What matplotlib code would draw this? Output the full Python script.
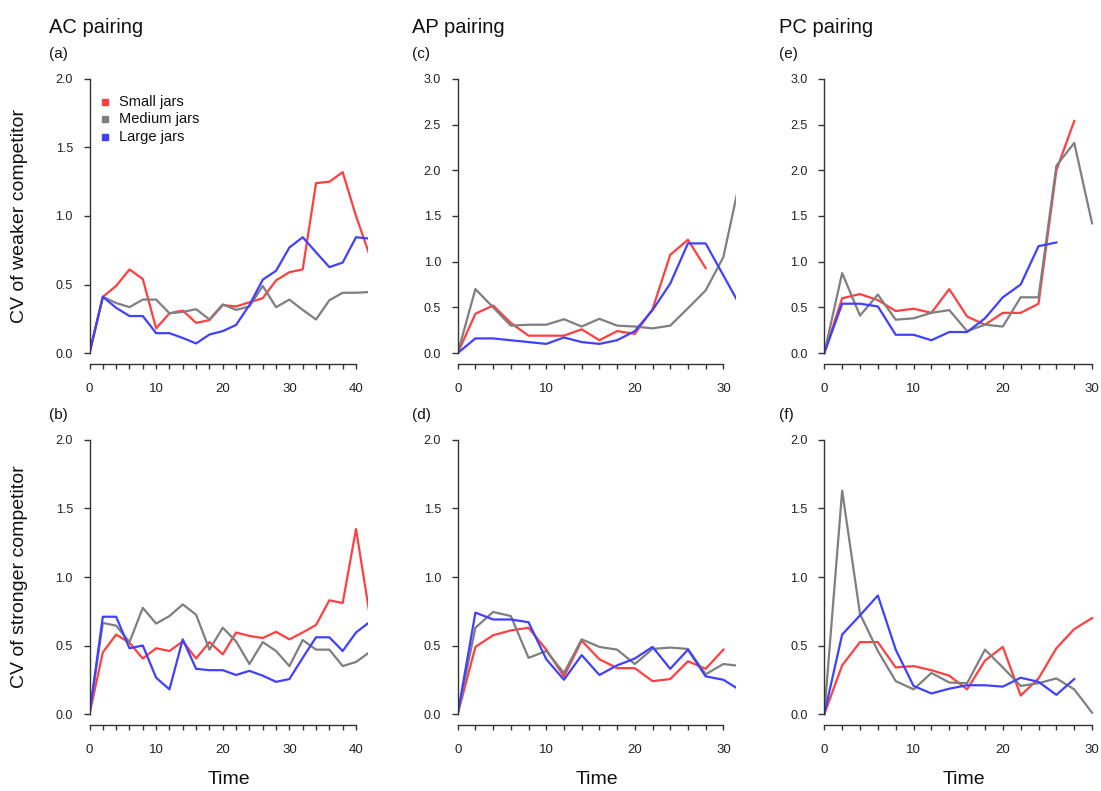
import numpy as np
import matplotlib
matplotlib.use("Agg")
import matplotlib.pyplot as plt

plt.rcParams['font.family'] = ['Liberation Sans', 'DejaVu Sans']

# sampling times (every 2 time units)
t_ac = np.arange(0, 44, 2)
t_ap = np.arange(0, 34, 2)

# AC pairing, weaker competitor
ac_weak_small = [0, 0.41, 0.49, 0.61, 0.54, 0.18, 0.29, 0.31, 0.22, 0.24, 0.35, 0.34,
                 0.37, 0.40, 0.53, 0.59, 0.61, 1.24, 1.25, 1.32, 1.00, 0.72]
ac_weak_medium = [0, 0.41, 0.365, 0.335, 0.39, 0.39, 0.29, 0.30, 0.32, 0.245, 0.355, 0.315,
                  0.34, 0.49, 0.335, 0.39, 0.315, 0.245, 0.385, 0.44, 0.44, 0.445]
ac_weak_large = [0, 0.41, 0.33, 0.27, 0.27, 0.145, 0.145, 0.11, 0.07, 0.135, 0.16, 0.205,
                 0.35, 0.535, 0.60, 0.77, 0.845, 0.735, 0.627, 0.66, 0.845, 0.835]

# AC pairing, stronger competitor
ac_strong_small = [0, 0.45, 0.58, 0.52, 0.405, 0.48, 0.46, 0.53, 0.405, 0.525, 0.435, 0.595,
                   0.57, 0.555, 0.60, 0.545, 0.595, 0.65, 0.83, 0.81, 1.35, 0.74]
ac_strong_medium = [0, 0.665, 0.645, 0.525, 0.775, 0.66, 0.715, 0.80, 0.725, 0.47, 0.63, 0.53,
                    0.365, 0.525, 0.46, 0.35, 0.54, 0.47, 0.47, 0.35, 0.38, 0.45]
ac_strong_large = [0, 0.71, 0.71, 0.48, 0.50, 0.265, 0.18, 0.545, 0.33, 0.32, 0.32, 0.285,
                   0.315, 0.28, 0.235, 0.255, 0.41, 0.56, 0.56, 0.46, 0.595, 0.67]

# AP pairing, weaker competitor
ap_weak_small = [0, 0.43, 0.52, 0.33, 0.19, 0.19, 0.19, 0.26, 0.14, 0.24, 0.21, 0.48,
                 1.075, 1.24, 0.93]
ap_weak_medium = [0, 0.70, 0.50, 0.30, 0.31, 0.31, 0.37, 0.29, 0.375, 0.30, 0.29, 0.27,
                  0.30, 0.49, 0.685, 1.05, 1.95]
ap_weak_large = [0, 0.16, 0.16, 0.14, 0.12, 0.10, 0.17, 0.12, 0.10, 0.14, 0.24, 0.47,
                 0.76, 1.20, 1.20, 0.85, 0.50]

# AP pairing, stronger competitor
ap_strong_small = [0, 0.49, 0.575, 0.61, 0.63, 0.47, 0.275, 0.535, 0.40, 0.335, 0.335, 0.24,
                   0.255, 0.385, 0.33, 0.47]
ap_strong_medium = [0, 0.63, 0.745, 0.715, 0.41, 0.46, 0.30, 0.545, 0.49, 0.47, 0.365, 0.475,
                    0.485, 0.475, 0.29, 0.365, 0.35]
ap_strong_large = [0, 0.74, 0.69, 0.69, 0.67, 0.40, 0.25, 0.43, 0.285, 0.355, 0.405, 0.49,
                   0.33, 0.47, 0.275, 0.25, 0.17]

# PC pairing, weaker competitor
pc_weak_small = [0, 0.60, 0.645, 0.58, 0.46, 0.485, 0.44, 0.70, 0.40, 0.31, 0.44, 0.44,
                 0.54, 2.00, 2.54]
pc_weak_medium = [0, 0.875, 0.41, 0.64, 0.365, 0.38, 0.44, 0.47, 0.24, 0.31, 0.29, 0.61,
                  0.61, 2.05, 2.30, 1.42]
pc_weak_large = [0, 0.54, 0.54, 0.51, 0.20, 0.20, 0.14, 0.23, 0.23, 0.38, 0.61, 0.75,
                 1.17, 1.21]

# PC pairing, stronger competitor
pc_strong_small = [0, 0.355, 0.525, 0.525, 0.34, 0.35, 0.32, 0.28, 0.18, 0.39, 0.49, 0.135,
                   0.26, 0.48, 0.62, 0.70]
pc_strong_medium = [0, 1.63, 0.73, 0.46, 0.24, 0.18, 0.30, 0.23, 0.225, 0.47, 0.34, 0.205,
                    0.225, 0.26, 0.18, 0.01]
pc_strong_large = [0, 0.58, 0.72, 0.865, 0.47, 0.205, 0.15, 0.185, 0.21, 0.21, 0.20, 0.265,
                   0.235, 0.14, 0.255]

jar_labels = ['Small jars', 'Medium jars', 'Large jars']
jar_colors = ['#FF4040', '#7F7F7F', '#4040FF']

panels = [
    # (row, col, tag, time, series, y top, x axis end, x limit)
    (0, 0, '(a)', t_ac, [ac_weak_small, ac_weak_medium, ac_weak_large], 2.0, 40, 41.8),
    (1, 0, '(b)', t_ac, [ac_strong_small, ac_strong_medium, ac_strong_large], 2.0, 40, 41.8),
    (0, 1, '(c)', t_ap, [ap_weak_small, ap_weak_medium, ap_weak_large], 3.0, 30, 31.45),
    (1, 1, '(d)', t_ap, [ap_strong_small, ap_strong_medium, ap_strong_large], 2.0, 30, 31.45),
    (0, 2, '(e)', t_ap, [pc_weak_small, pc_weak_medium, pc_weak_large], 3.0, 30, 31.2),
    (1, 2, '(f)', t_ap, [pc_strong_small, pc_strong_medium, pc_strong_large], 2.0, 30, 31.2),
]

W, H = 1101, 791
fig = plt.figure(figsize=(W / 100, H / 100), dpi=100)

col_left = [89.5, 457.7, 824.3]
col_width = 278.5
row_top = [68, 429]
row_height = 296
text_x = [49, 412, 779]

for row, col, tag, t, series, ytop, xend, xlim in panels:
    ax = fig.add_axes([col_left[col] / W, 1 - (row_top[row] + row_height) / H,
                       col_width / W, row_height / H])
    for vals, color in zip(series, jar_colors):
        ax.plot(t[:len(vals)], vals, color=color, lw=1.6, solid_joinstyle='round')
    ax.set_xlim(0, xlim)
    ax.set_ylim(-0.04 * ytop, 1.04 * ytop)
    ax.set_xticks(np.arange(0, xend + 1, 2))
    ax.set_xticklabels([str(v) if v % 10 == 0 else '' for v in range(0, xend + 1, 2)])
    ax.set_yticks(np.arange(0, ytop + 0.01, 0.5))
    ax.set_yticklabels(['%.1f' % v for v in np.arange(0, ytop + 0.01, 0.5)])
    for s in ['top', 'right']:
        ax.spines[s].set_visible(False)
    ax.spines['left'].set_bounds(0, ytop)
    ax.spines['bottom'].set_bounds(0, xend)
    for s in ['left', 'bottom']:
        ax.spines[s].set_color('#333333')
        ax.spines[s].set_linewidth(1.0)
    ax.tick_params(axis='y', length=4, width=1.0, color='#333333', pad=8,
                   labelsize=9, labelcolor='#222222')
    ax.tick_params(axis='x', length=3.5, width=1.0, color='#333333', pad=10,
                   labelsize=9.5, labelcolor='#222222')
    ax.set_facecolor('none')

    fig.text(text_x[col] / W, 1 - (row_top[row] - 10) / H, tag,
             fontsize=11, va='baseline', ha='left', color='#111111')
    if row == 1:
        fig.text((col_left[col] + col_width / 2) / W, 1 - 780 / H, 'Time',
                 fontsize=14, ha='center', va='center', color='#111111')

    if tag == '(a)':
        for i, (lab, color) in enumerate(zip(jar_labels, jar_colors)):
            y = 0.886 - i * 0.059
            ax.plot([0.0557], [y], 's', color=color, ms=5, transform=ax.transAxes,
                    clip_on=False)
            ax.text(0.107, y, lab, transform=ax.transAxes, fontsize=10.5,
                    va='center', ha='left', color='#111111')

for col, title in enumerate(['AC pairing', 'AP pairing', 'PC pairing']):
    fig.text(text_x[col] / W, 1 - 33 / H, title, fontsize=14.5,
             va='baseline', ha='left', color='#111111')

fig.text(20 / W, 1 - 216 / H, 'CV of weaker competitor', rotation=90,
         fontsize=14, ha='center', va='center', color='#111111')
fig.text(20 / W, 1 - 577 / H, 'CV of stronger competitor', rotation=90,
         fontsize=14, ha='center', va='center', color='#111111')

fig.savefig('out.png', dpi=100, facecolor='white')
